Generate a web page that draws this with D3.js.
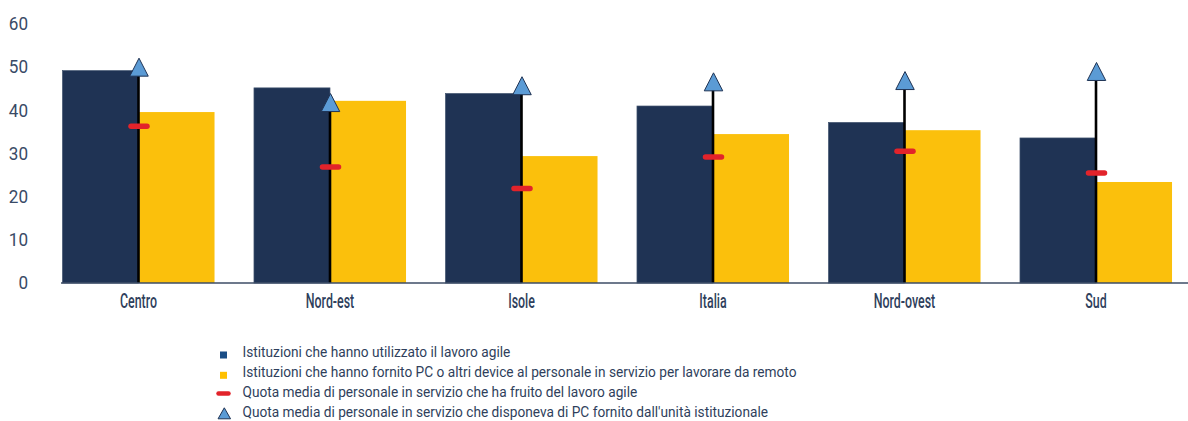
<!DOCTYPE html>
<html><head><meta charset="utf-8">
<script src="https://cdn.jsdelivr.net/npm/d3@7"></script>
<style>
body{margin:0;background:#fff}
text{font-family:Roboto,"Liberation Sans",sans-serif}
</style>
</head><body>
<svg id="c" width="1188" height="421"></svg>
<script>
const categories = ["Centro", "Nord-est", "Isole", "Italia", "Nord-ovest", "Sud"];
const agile      = [49.2, 45.2, 43.9, 41.0, 37.2, 33.6];
const device     = [39.6, 42.2, 29.4, 34.5, 35.4, 23.4];
const quotaAgile = [36.3, 26.9, 21.9, 29.2, 30.5, 25.5];
const quotaPC    = [50.0, 41.8, 45.7, 46.6, 46.9, 49.0];
const yTicks     = [0, 10, 20, 30, 40, 50, 60];
const legendLabels = [
  "Istituzioni che hanno utilizzato il lavoro agile",
  "Istituzioni che hanno fornito PC o altri device al personale in servizio per lavorare da remoto",
  "Quota  media di personale in servizio che ha fruito del lavoro agile",
  "Quota media di personale in servizio che disponeva di PC fornito dall'unità istituzionale"
];

const NAVY = "#1f3354", YELLOW = "#fbc00c", RED = "#e2232a", BLUE = "#5b9bd5", TXT = "#2f3f5c";
const FONT = 'Roboto,"Liberation Sans",sans-serif';
const svg = d3.select("#c");

const y = d3.scaleLinear().domain([0, 60]).range([283, 24]);
const x = d3.scaleBand().domain(categories).range([42.75, 1191.75]).paddingInner(0.206).paddingOuter(0.103);
const xs = d3.scaleBand().domain(["agile", "device"]).range([0, x.bandwidth()]);
const rows = categories.map((c, i) => ({c, agile: agile[i], device: device[i], qa: quotaAgile[i], qp: quotaPC[i]}));

function condense(sel, k) {
  sel.each(function () {
    const l = this.getComputedTextLength();
    d3.select(this).attr("textLength", l * k).attr("lengthAdjust", "spacingAndGlyphs");
  });
}

// bars
const g = svg.append("g");
g.selectAll("rect.a").data(rows).join("rect")
  .attr("x", d => x(d.c) + xs("agile")).attr("width", xs.bandwidth())
  .attr("y", d => y(d.agile)).attr("height", d => y(0) - y(d.agile))
  .attr("fill", NAVY).attr("stroke", "#42546f").attr("stroke-width", 0.7);
g.selectAll("rect.d").data(rows).join("rect")
  .attr("x", d => x(d.c) + xs("device")).attr("width", xs.bandwidth())
  .attr("y", d => y(d.device)).attr("height", d => y(0) - y(d.device))
  .attr("fill", YELLOW);

// baseline
svg.append("line").attr("x1", 61).attr("x2", 1188).attr("y1", y(0)).attr("y2", y(0))
  .attr("stroke", "#3c4c66").attr("stroke-width", 1.6);

// vertical drop lines up to triangle
const cx = d => x(d.c) + x.bandwidth() / 2;
g.selectAll("line.v").data(rows).join("line")
  .attr("x1", cx).attr("x2", cx).attr("y1", y(0)).attr("y2", d => y(d.qp))
  .attr("stroke", "#000").attr("stroke-width", 2.6);

// red dashes
g.selectAll("line.r").data(rows).join("line")
  .attr("x1", d => cx(d) - 7.5).attr("x2", d => cx(d) + 8.5)
  .attr("y1", d => y(d.qa)).attr("y2", d => y(d.qa))
  .attr("stroke", RED).attr("stroke-width", 5.5).attr("stroke-linecap", "round");

// triangles
const tri = (w, h) => `M0,${-h/2}L${w/2},${h/2}L${-w/2},${h/2}Z`;
g.selectAll("path.t").data(rows).join("path")
  .attr("transform", d => `translate(${cx(d) + 0.5},${y(d.qp)})`)
  .attr("d", tri(18.5, 18)).attr("fill", BLUE).attr("stroke", "#1f3354").attr("stroke-width", 1);

// y axis
const ya = svg.append("g").attr("transform", "translate(28,0)")
  .call(d3.axisLeft(y).tickValues(yTicks).tickSize(0).tickPadding(0));
ya.select(".domain").remove();
ya.selectAll("text").attr("font-size", 18).attr("fill", "#394a66").style("font-family", FONT);
condense(ya.selectAll("text"), 0.95);

// x axis labels
const xa = svg.append("g").attr("transform", `translate(0,${y(0)})`)
  .call(d3.axisBottom(x).tickSize(0).tickPadding(0));
xa.select(".domain").remove();
xa.selectAll("text").attr("dy", null).attr("y", 24.5).attr("font-size", 20)
  .attr("font-weight", 500).attr("fill", TXT).style("font-family", FONT);
condense(xa.selectAll("text"), 0.62);

// legend
const lg = svg.append("g");
const baseY = [356.5, 376.8, 397, 417.3];
const lt = lg.selectAll("text").data(legendLabels).join("text")
  .attr("x", 242.5).attr("y", (d, i) => baseY[i]).text(d => d)
  .attr("font-size", 14.6).attr("fill", TXT);
const natural = lt.nodes().map(n => n.getComputedTextLength());
const k = 554 / natural[1];
lt.each(function (d, i) { d3.select(this).attr("textLength", natural[i] * k).attr("lengthAdjust", "spacingAndGlyphs"); });

const mx = 223.5;
lg.append("rect").attr("x", mx - 3.5).attr("y", baseY[0] - 5).attr("width", 7).attr("height", 7).attr("fill", "#1a4d86");
lg.append("rect").attr("x", mx - 3.5).attr("y", baseY[1] - 5).attr("width", 7).attr("height", 7).attr("fill", "#ffc000");
lg.append("line").attr("x1", mx - 5).attr("x2", mx + 5).attr("y1", baseY[2] - 3.5).attr("y2", baseY[2] - 3.5)
  .attr("stroke", RED).attr("stroke-width", 4.5).attr("stroke-linecap", "round");
lg.append("path").attr("transform", `translate(${mx + 0.8},${baseY[3] - 4})`).attr("d", tri(12.5, 11))
  .attr("fill", BLUE).attr("stroke", "#1f3354").attr("stroke-width", 1);
</script>
</body></html>
